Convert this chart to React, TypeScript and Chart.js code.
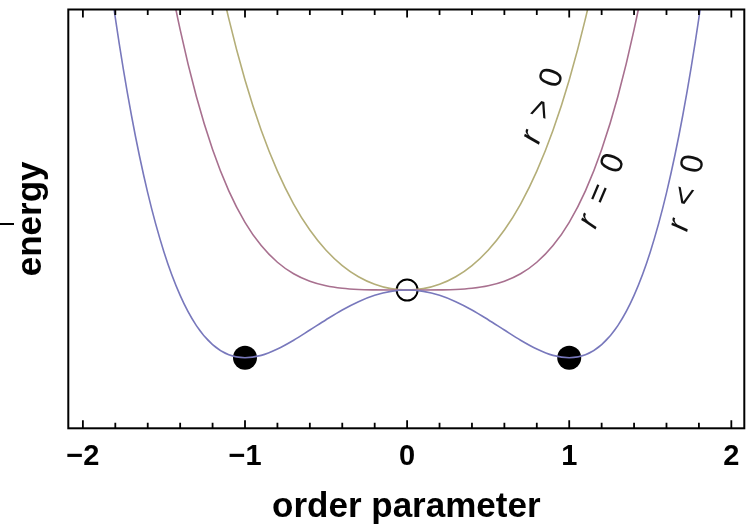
import { useEffect, useRef } from "react";
import { Chart, registerables } from "chart.js";

Chart.register(...registerables);

// Order parameter samples shared by the three energy curves
const orderParam = [
  -2.0, -1.9, -1.8, -1.7, -1.6, -1.5, -1.4, -1.3, -1.2, -1.1, -1.0,
  -0.9, -0.8, -0.7, -0.6, -0.5, -0.4, -0.3, -0.2, -0.1, 0.0,
  0.1, 0.2, 0.3, 0.4, 0.5, 0.6, 0.7, 0.8, 0.9, 1.0,
  1.1, 1.2, 1.3, 1.4, 1.5, 1.6, 1.7, 1.8, 1.9, 2.0,
];

// Energy for r < 0 (double well)
const energyRNeg = [
  8.0, 5.812, 4.018, 2.572, 1.434, 0.563, -0.078, -0.524, -0.806, -0.956, -1.0,
  -0.964, -0.87, -0.74, -0.59, -0.438, -0.294, -0.172, -0.078, -0.02, 0.0,
  -0.02, -0.078, -0.172, -0.294, -0.438, -0.59, -0.74, -0.87, -0.964, -1.0,
  -0.956, -0.806, -0.524, -0.078, 0.563, 1.434, 2.572, 4.018, 5.812, 8.0,
];

// Energy for r = 0 (flat bottom)
const energyRZero = [
  16.0, 13.032, 10.498, 8.352, 6.554, 5.063, 3.842, 2.856, 2.074, 1.464, 1.0,
  0.656, 0.41, 0.24, 0.13, 0.063, 0.026, 0.008, 0.002, 0.0, 0.0,
  0.0, 0.002, 0.008, 0.026, 0.063, 0.13, 0.24, 0.41, 0.656, 1.0,
  1.464, 2.074, 2.856, 3.842, 5.063, 6.554, 8.352, 10.498, 13.032, 16.0,
];

// Energy for r > 0 (single well)
const energyRPos = [
  24.4, 20.613, 17.302, 14.421, 11.93, 9.788, 7.958, 6.405, 5.098, 4.005, 3.1,
  2.357, 1.754, 1.269, 0.886, 0.588, 0.362, 0.197, 0.086, 0.021, 0.0,
  0.021, 0.086, 0.197, 0.362, 0.588, 0.886, 1.269, 1.754, 2.357, 3.1,
  4.005, 5.098, 6.405, 7.958, 9.788, 11.93, 14.421, 17.302, 20.613, 24.4,
];

// Stable minima of the r < 0 curve and the critical point at the origin
const minimaX = [-1, 1];
const minimaY = [-1, -1];
const criticalX = [0];
const criticalY = [0];

const xTickValues = [-2, -1, 0, 1, 2];
const xRange = [-2.09, 2.08];
const yRange = [-2.04, 4.14];

const curveLabels = ["r < 0", "r = 0", "r > 0"];
const xTitle = "order parameter";
const yTitle = "energy";

const toPoints = (ys: number[]) => orderParam.map((x, i) => ({ x, y: ys[i] }));

const LABEL_FONT = '"Liberation Sans", Arial, sans-serif';

const formatTick = (v: number) => (v < 0 ? "\u2212" + Math.abs(v) : String(v));

function drawCurveLabel(
  ctx: CanvasRenderingContext2D,
  text: string,
  cx: number,
  cy: number,
  angleDeg: number
) {
  const pieces = text.split(" ");
  const fonts = pieces.map((_, i) => (i === 0 ? `italic 32px ${LABEL_FONT}` : `32px ${LABEL_FONT}`));
  const gap = 15;
  const widths = pieces.map((p, i) => {
    ctx.font = fonts[i];
    return ctx.measureText(p).width;
  });
  const total = widths.reduce((a, b) => a + b, 0) + gap * (pieces.length - 1);
  ctx.save();
  ctx.translate(cx, cy);
  ctx.rotate((-angleDeg * Math.PI) / 180);
  ctx.fillStyle = "#111";
  ctx.textBaseline = "middle";
  ctx.textAlign = "left";
  let x = -total / 2;
  pieces.forEach((p, i) => {
    ctx.font = fonts[i];
    ctx.fillText(p, x, 0);
    x += widths[i] + gap;
  });
  ctx.restore();
}

// Frame, inward tick marks, tick labels and the rotated curve labels
const framePlugin = {
  id: "frameAndLabels",
  afterDatasetsDraw(chart: any) {
    const { ctx, chartArea: a, scales } = chart;
    const xs = scales.x;
    ctx.save();
    ctx.strokeStyle = "#000";
    ctx.lineWidth = 1.8;
    for (let i = -10; i <= 10; i++) {
      const v = i / 5;
      const px = xs.getPixelForValue(v);
      const len = i % 5 === 0 ? 8 : 5.5;
      ctx.beginPath();
      ctx.moveTo(px, a.bottom);
      ctx.lineTo(px, a.bottom - len);
      ctx.moveTo(px, a.top);
      ctx.lineTo(px, a.top + len);
      ctx.stroke();
    }
    ctx.lineWidth = 2;
    ctx.strokeRect(a.left, a.top, a.right - a.left, a.bottom - a.top);
    ctx.beginPath();
    ctx.moveTo(0, 224);
    ctx.lineTo(14, 224);
    ctx.stroke();

    ctx.fillStyle = "#000";
    ctx.font = `bold 29px ${LABEL_FONT}`;
    ctx.textAlign = "center";
    ctx.textBaseline = "alphabetic";
    xTickValues.forEach((v) => {
      ctx.fillText(formatTick(v), xs.getPixelForValue(v), a.bottom + 37);
    });
    ctx.restore();

    drawCurveLabel(ctx, curveLabels[2], 543, 106, 71);
    drawCurveLabel(ctx, curveLabels[1], 602, 191, 67);
    drawCurveLabel(ctx, curveLabels[0], 687, 193, 77);
  },
};

export default function App() {
  const canvasRef = useRef<HTMLCanvasElement | null>(null);

  useEffect(() => {
    const canvas = canvasRef.current;
    if (!canvas) return;
    const lineBase = {
      type: "line" as const,
      showLine: true,
      pointRadius: 0,
      borderWidth: 1.6,
      cubicInterpolationMode: "monotone" as const,
      fill: false,
    };
    const chart = new Chart(canvas, {
      type: "scatter",
      data: {
        datasets: [
          {
            ...lineBase,
            label: curveLabels[0],
            data: toPoints(energyRNeg),
            borderColor: "#7878bc",
          },
          {
            ...lineBase,
            label: curveLabels[1],
            data: toPoints(energyRZero),
            borderColor: "#a8708f",
          },
          {
            ...lineBase,
            label: curveLabels[2],
            data: toPoints(energyRPos),
            borderColor: "#b4ae78",
          },
          {
            label: "minima",
            data: minimaX.map((x, i) => ({ x, y: minimaY[i] })),
            pointRadius: 12,
            pointBackgroundColor: "#000",
            pointBorderColor: "#000",
            pointBorderWidth: 0,
          },
          {
            label: "critical",
            data: criticalX.map((x, i) => ({ x, y: criticalY[i] })),
            pointRadius: 10.5,
            pointBackgroundColor: "rgba(0,0,0,0)",
            pointBorderColor: "#000",
            pointBorderWidth: 2,
          },
        ],
      },
      options: {
        animation: false,
        responsive: false,
        layout: { autoPadding: false, padding: { top: 9.5, right: 2.7, left: 0, bottom: 0 } },
        plugins: { legend: { display: false }, tooltip: { enabled: false } },
        events: [],
        scales: {
          x: {
            type: "linear",
            min: xRange[0],
            max: xRange[1],
            border: { display: false },
            grid: { display: false, drawTicks: false },
            afterBuildTicks: (s: any) => {
              s.ticks = xTickValues.map((v) => ({ value: v }));
            },
            afterFit: (s: any) => {
              s.height = 97.7;
            },
            ticks: { display: false },
            title: {
              display: true,
              text: xTitle,
              color: "#000",
              font: { family: LABEL_FONT, size: 35, weight: "bold", lineHeight: 1 },
              padding: { top: 0, bottom: 1 },
            },
          },
          y: {
            type: "linear",
            min: yRange[0],
            max: yRange[1],
            border: { display: false },
            grid: { display: false, drawTicks: false },
            ticks: { display: false },
            afterFit: (s: any) => {
              s.width = 68.3;
            },
            title: {
              display: true,
              text: yTitle,
              color: "#000",
              font: { family: LABEL_FONT, size: 35, weight: "bold", lineHeight: 1 },
              padding: { top: 14, bottom: 0 },
            },
          },
        },
      },
      plugins: [framePlugin],
    } as any);
    return () => chart.destroy();
  }, []);

  return (
    <div style={{ position: "absolute", left: 0, top: 0, width: 747, height: 526, background: "#fff" }}>
      <canvas ref={canvasRef} width={747} height={526} style={{ display: "block" }} />
    </div>
  );
}
